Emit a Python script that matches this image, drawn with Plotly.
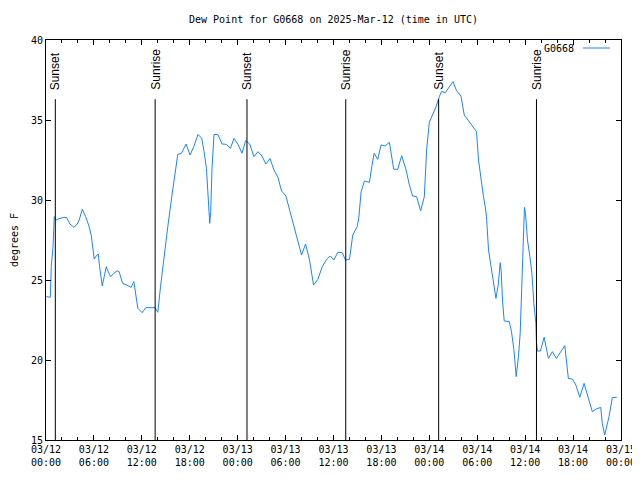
import pandas as pd
import plotly.graph_objects as go

# ---- data ----
start_time = "2025-03-12 00:00"
hours_since_start = [
    0.04, 0.54, 0.66, 0.875, 1.04, 1.29, 1.625, 2.25, 2.59, 3.0, 3.5, 3.91, 4.16, 4.54, 4.96,
    5.375, 5.66, 5.91, 6.04, 6.29, 6.54, 6.71, 6.875, 7.04, 7.29, 7.54, 7.79, 8.09, 8.5, 8.91,
    9.16, 9.59, 10.16, 10.66, 11.0, 11.25, 11.5, 12.04, 12.5, 13.66, 14.0, 14.34, 14.75, 15.25,
    15.75, 16.09, 16.5, 16.96, 17.54, 18.04, 18.5, 19.04, 19.5, 19.79, 20.09, 20.25, 20.5,
    20.625, 20.79, 21.04, 21.54, 22.04, 22.59, 23.09, 23.54, 24.04, 24.54, 25.0, 25.5, 26.04,
    26.54, 27.04, 27.54, 28.04, 28.54, 29.04, 29.5, 30.04, 30.5, 31.0, 31.5, 32.0, 32.5, 33.0,
    33.5, 34.04, 34.59, 35.09, 35.59, 36.04, 36.54, 37.09, 37.5, 38.0, 38.41, 38.96, 39.16,
    39.46, 39.875, 40.5, 40.79, 41.09, 41.54, 41.96, 42.46, 43.0, 43.54, 44.04, 44.54, 45.09,
    45.5, 45.91, 46.41, 46.91, 47.375, 47.66, 48.0, 48.41, 48.84, 49.25, 49.54, 50.0, 50.5,
    50.96, 51.41, 51.96, 52.375, 52.96, 53.41, 53.91, 54.16, 54.46, 54.75, 55.0, 55.16, 55.41,
    55.71, 56.0, 56.34, 56.625, 56.875, 57.0, 57.16, 57.375, 58.0, 58.29, 58.59, 58.875,
    59.16, 59.375, 59.59, 59.79, 59.91, 60.04, 60.29, 60.59, 60.84, 61.09, 61.34, 61.41,
    61.54, 61.91, 62.375, 62.91, 63.41, 63.91, 64.41, 64.96, 65.41, 65.91, 66.34, 66.84,
    67.375, 67.875, 68.41, 68.91, 69.46, 69.66, 69.96, 70.5, 70.91, 71.46,
]
dew_point_f = [
    23.96, 23.92, 25.83, 27.08, 28.96, 28.75, 28.83, 28.92, 28.9, 28.5, 28.29, 28.5, 28.75, 29.42, 28.96,
    28.38, 27.81, 26.88, 26.31, 26.5, 26.63, 25.83, 25.0, 24.63, 25.21, 25.83, 25.52, 25.21, 25.42, 25.58,
    25.52, 24.79, 24.67, 24.54, 24.9, 24.17, 23.23, 22.96, 23.27, 23.27, 22.98, 24.58, 26.46, 28.33,
    30.21, 31.56, 32.85, 32.92, 33.5, 32.81, 33.33, 34.1, 33.85, 33.02, 31.98, 30.63, 28.54,
    29.27, 31.98, 34.1, 34.08, 33.5, 33.48, 33.23, 33.85, 33.48, 32.92, 33.71, 33.5, 32.71,
    33.02, 32.75, 32.25, 32.6, 31.88, 31.42, 30.56, 30.25, 29.38, 28.54, 27.6, 26.56, 27.25, 26.25,
    24.69, 25.04, 25.83, 26.25, 26.5, 26.25, 26.73, 26.71, 26.25, 26.29, 27.81, 28.33, 28.85,
    30.52, 31.19, 31.1, 32.08, 32.92, 32.54, 33.44, 33.38, 33.6, 31.92, 31.92, 32.77, 31.88,
    30.94, 30.25, 30.21, 29.33, 30.21, 33.13, 34.86, 35.31, 35.83, 36.46, 36.79, 36.71, 37.08,
    37.4, 36.83, 36.5, 35.31, 34.9, 34.54, 34.27, 32.5, 31.25, 30.3, 29.58, 28.96, 26.88,
    25.83, 25.0, 23.85, 24.69, 26.08, 25.52, 23.75, 22.44, 22.4, 21.77, 20.63, 18.96,
    20.21, 21.67, 24.79, 28.54, 29.54, 29.17, 27.5, 26.46, 25.42, 23.54, 22.29, 21.15,
    20.56, 20.56, 21.42, 20.1, 20.52, 20.1, 20.52, 20.9, 18.85, 18.81, 18.44, 17.67,
    18.54, 17.6, 16.77, 16.94, 17.04, 16.04, 15.31, 16.46, 17.65, 17.67,
]
sun_event_times = ["2025-03-12 01:10", "2025-03-12 13:40", "2025-03-13 01:10",
                   "2025-03-13 13:32", "2025-03-14 01:10", "2025-03-14 13:25"]
sun_event_labels = ["Sunset", "Sunrise", "Sunset", "Sunrise", "Sunset", "Sunrise"]
series_name = "G0668"
title_text = "Dew Point for G0668 on 2025-Mar-12 (time in UTC)"
y_label = "degrees F"
x_range = ["2025-03-12 00:00", "2025-03-15 00:00"]
y_range = [15, 40]

# ---- build ----
base = pd.Timestamp(start_time)
times = [base + pd.Timedelta(hours=h) for h in hours_since_start]

MONO = "DejaVu Sans Mono"
LINE_COLOR = "#1a85ff"

# page body has an 8px margin: figure occupies window pixels 8..640 / 8..480
W, H = 632, 472
fig = go.Figure()
fig.add_trace(go.Scatter(x=times, y=dew_point_f, mode="lines", name=series_name,
                         line=dict(color=LINE_COLOR, width=1), showlegend=False))

shapes = []
annotations = []
for t, lab in zip(sun_event_times, sun_event_labels):
    shapes.append(dict(type="line", xref="x", yref="y", x0=t, x1=t, y0=15, y1=36.3,
                       line=dict(color="black", width=1), layer="above"))
    annotations.append(dict(x=t, y=36.75, xref="x", yref="y", text=lab, textangle=-90,
                            showarrow=False, xanchor="center", yanchor="bottom",
                            font=dict(family="Liberation Sans", size=12, color="black")))

# legend (gnuplot style: text then sample)
annotations.append(dict(x=0.921, y=0.98, xref="paper", yref="paper", text=series_name,
                        showarrow=False, xanchor="right", yanchor="middle",
                        font=dict(family=MONO, size=10, color="black")))
shapes.append(dict(type="line", xref="paper", yref="paper", x0=0.934, x1=0.981,
                   y0=0.98, y1=0.98, line=dict(color=LINE_COLOR, width=1)))

# y axis title
annotations.append(dict(x=-0.0555, y=0.5, xref="paper", yref="paper", text=y_label,
                        textangle=-90, showarrow=False, xanchor="center", yanchor="middle",
                        font=dict(family=MONO, size=10, color="black")))

fig.update_layout(
    width=W, height=H,
    margin=dict(l=38, r=19, t=32, b=40, autoexpand=False),
    paper_bgcolor="white", plot_bgcolor="white",
    font=dict(family=MONO, size=10, color="black"),
    title=dict(text=title_text, xref="paper", x=0.5, xanchor="center",
               y=1 - 11 / H, yanchor="middle",
               font=dict(family=MONO, size=10, color="black")),
    shapes=shapes, annotations=annotations,
    showlegend=False,
)
fig.update_xaxes(
    type="date", range=x_range, showgrid=False, zeroline=False,
    showline=True, linecolor="black", linewidth=1, mirror="allticks",
    ticks="inside", ticklen=5, tickcolor="black",
    tick0="2025-03-12 00:00", dtick=6 * 3600 * 1000, tickformat="%m/%d<br>%H:%M",
    minor=dict(ticks="inside", ticklen=3, dtick=2 * 3600 * 1000, tickcolor="black", showgrid=False),
    tickfont=dict(family=MONO, size=10, color="black"),
)
fig.update_yaxes(
    range=y_range, showgrid=False, zeroline=False,
    showline=True, linecolor="black", linewidth=1, mirror="allticks",
    ticks="inside", ticklen=5, tickcolor="black", dtick=5, tick0=15,
    tickfont=dict(family=MONO, size=10, color="black"),
)

fig.write_html("out.html")
